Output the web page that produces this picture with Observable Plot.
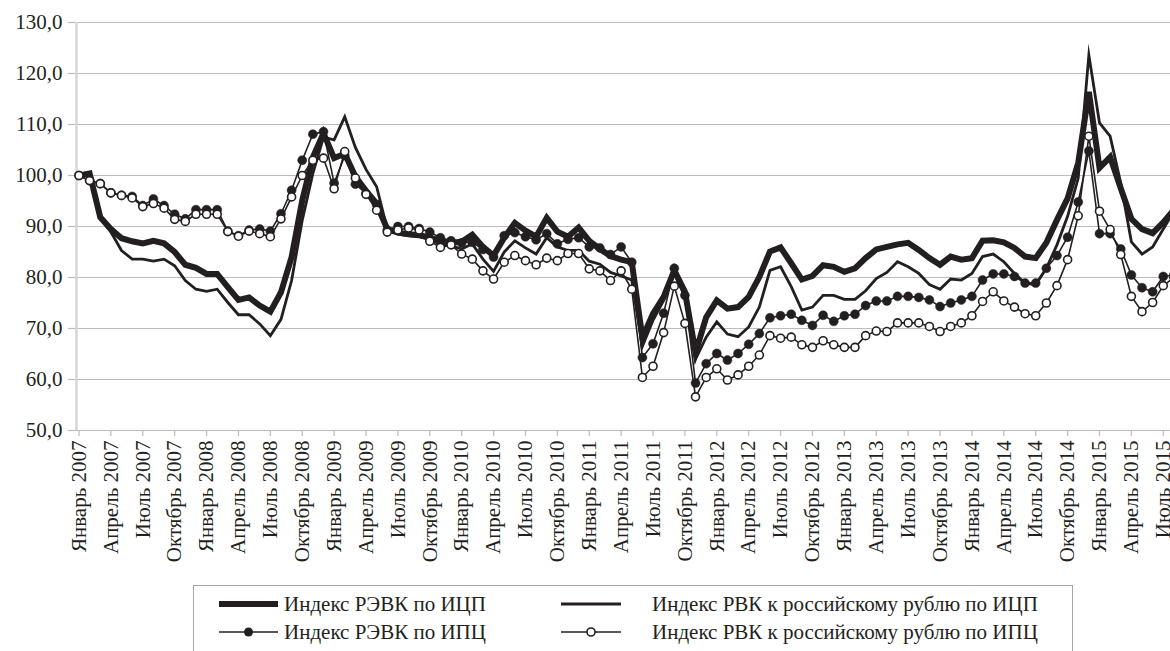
<!DOCTYPE html>
<html>
<head>
<meta charset="utf-8">
<script src="https://cdn.jsdelivr.net/npm/d3@7"></script>
<script src="https://cdn.jsdelivr.net/npm/@observablehq/plot@0.6"></script>
<style>
  html, body { margin: 0; padding: 0; background: #fff; }
  #wrap { position: relative; width: 1170px; height: 651px; overflow: hidden; font-family: "Liberation Serif", "DejaVu Serif", serif; color: #231f20; }
  #chart svg { display: block; }
  #chart svg text { font-family: "Liberation Serif", "DejaVu Serif", serif; }
  .legend { position: absolute; left: 193px; top: 585px; width: 880px; height: 90px; border: 1px solid #a6a6a6; box-sizing: border-box; background: #fff; }
  .item { position: absolute; height: 26px; display: flex; align-items: center; font-size: 21px; white-space: nowrap; font-family: "Liberation Serif", "DejaVu Serif", serif; }
  .item svg { display: block; }
</style>
</head>
<body>
<div id="wrap">
  <div id="chart"></div>
  <div class="legend" id="legend"></div>
</div>
<script>
// ---- data (monthly, January 2007 = index 0) ----
const monthNames = ["Январь","Февраль","Март","Апрель","Май","Июнь","Июль","Август","Сентябрь","Октябрь","Ноябрь","Декабрь"];
const startYear = 2007;
const seriesNames = [
  "Индекс РЭВК по ИЦП",
  "Индекс РВК к российскому рублю по ИЦП",
  "Индекс РЭВК по ИПЦ",
  "Индекс РВК к российскому рублю по ИПЦ"
];
const reerCpi = [100.0,100.4,91.8,89.5,87.7,87.1,86.7,87.2,86.7,85.0,82.5,81.9,
  80.7,80.7,78.1,75.6,76.1,74.5,73.3,77.1,84.0,95.1,103.6,108.3,
  103.4,104.3,99.8,97.0,94.5,89.5,88.8,88.5,88.3,87.8,87.2,86.8,
  87.0,88.4,86.0,84.3,87.8,90.7,89.2,88.0,91.7,89.0,88.0,89.8,
  87.2,85.6,84.2,83.5,83.0,68.2,72.9,76.2,81.4,77.2,65.3,72.2,
  75.5,73.9,74.2,76.2,80.1,85.1,85.9,82.8,79.6,80.3,82.4,82.1,
  81.1,81.8,83.8,85.5,86.0,86.5,86.8,85.4,83.8,82.5,84.1,83.5,
  83.8,87.2,87.3,86.9,85.8,84.1,83.8,86.8,91.3,95.5,102.5,116.4,
  101.5,103.6,97.5,91.5,89.5,88.7,90.8,93.3];
const rerCpi = [100.0,100.4,91.8,88.9,85.3,83.6,83.6,83.2,83.6,82.3,79.4,77.7,
  77.3,77.7,75.1,72.7,72.7,70.9,68.6,71.8,79.4,91.2,100.4,107.5,
  107.0,111.5,105.5,101.2,97.8,89.5,88.5,88.2,88.0,87.5,86.5,86.2,
  85.6,86.6,83.6,81.2,85.0,87.2,85.8,84.6,87.8,86.0,85.3,85.3,
  83.2,82.6,81.0,80.3,79.5,66.5,71.6,75.5,80.8,76.2,64.0,68.3,
  71.3,68.9,68.4,70.3,74.2,81.4,82.1,78.2,73.6,74.2,76.5,76.5,
  75.7,75.7,77.4,79.8,81.0,83.1,82.1,80.8,78.6,77.7,79.7,79.5,
  80.8,84.1,84.6,83.1,80.8,78.9,78.6,81.8,86.4,92.0,99.5,123.6,
  110.3,107.7,98.5,87.0,84.6,86.0,89.5,93.0];
const reerPpi = [100.0,99.0,98.4,96.6,96.1,95.9,94.1,95.4,94.1,92.4,91.5,93.3,
  93.3,93.3,89.1,88.2,89.3,89.5,89.1,92.5,97.1,103.0,108.1,108.6,
  98.5,103.9,98.3,96.5,94.3,89.3,90.0,90.0,89.6,88.9,87.8,87.2,
  86.8,86.9,85.5,84.0,88.2,88.8,88.0,87.4,88.6,86.6,87.5,87.8,
  86.0,85.8,84.5,86.0,83.0,64.3,67.0,73.0,81.8,76.5,59.3,63.1,
  65.1,63.8,65.1,66.9,69.0,72.1,72.5,72.8,71.6,70.6,72.6,71.4,
  72.5,72.8,74.5,75.4,75.4,76.3,76.3,76.1,75.6,74.3,75.0,75.6,
  76.3,79.5,80.7,80.7,80.2,78.9,78.9,81.8,84.3,87.9,94.8,104.8,
  88.6,88.6,85.6,80.5,78.0,77.2,80.2,80.5];
const rerPpi = [100.0,99.0,98.4,96.6,96.1,95.6,93.9,94.5,93.6,91.4,91.0,92.4,
  92.4,92.4,89.0,88.1,89.1,88.6,88.0,91.5,95.8,100.0,103.0,103.4,
  97.4,104.7,99.5,96.3,93.2,88.9,89.3,89.7,89.3,87.1,85.9,86.4,
  84.6,83.6,81.3,79.7,83.0,84.3,83.3,82.5,83.8,83.3,84.7,84.7,
  81.7,81.3,79.4,81.3,77.7,60.4,62.6,69.2,78.3,71.0,56.6,60.4,
  62.1,59.9,60.9,62.6,64.8,68.6,68.1,68.3,66.8,66.3,67.6,66.8,
  66.3,66.3,68.6,69.5,69.4,71.1,71.1,71.1,70.4,69.4,70.4,71.1,
  72.5,75.3,77.2,75.4,74.2,72.9,72.5,75.0,78.4,83.5,92.1,107.7,
  93.0,89.4,84.5,76.3,73.3,75.1,78.4,80.0];
const yTicks = [50, 60, 70, 80, 90, 100, 110, 120, 130];
const xTicks = d3.range(0, 103, 3); // every quarter: Январь, Апрель, Июль, Октябрь

// ---- helpers ----
const monthLabel = i => monthNames[i % 12] + " " + (startYear + Math.floor(i / 12));
const rows = arr => arr.map((v, i) => ({i, v}));
const ink = "#231f20";
const xDomain = [-0.235, 102.68];
const serif = "'Liberation Serif', 'DejaVu Serif', serif";

const chart = Plot.plot({
  width: 1170,
  height: 582,
  marginLeft: 76,
  marginRight: 0,
  marginTop: 22,
  marginBottom: 152,
  style: {fontFamily: serif, fontSize: "21px", color: ink, background: "#fff", overflow: "hidden"},
  x: {domain: xDomain},
  y: {domain: [50, 130]},
  marks: [
    Plot.gridY(yTicks, {stroke: "#bcbcbc", strokeOpacity: 1, strokeWidth: 1.2}),
    Plot.axisY(yTicks, {tickSize: 8, tickPadding: 6, stroke: "#bcbcbc", strokeWidth: 1.2, fill: ink, fontSize: 21,
      fontFamily: serif, tickFormat: d => d.toFixed(1).replace(".", ","), label: null}),
    Plot.ruleY([50], {stroke: "#bcbcbc", strokeWidth: 1.2}),
    Plot.ruleX([xDomain[0]], {stroke: "#d6d6d6", strokeWidth: 2.5}),
    Plot.axisX(xTicks, {tickSize: 6, tickPadding: 4, tickRotate: -90, stroke: "#bcbcbc", strokeWidth: 1.2, fill: ink, fontSize: 21,
      fontFamily: serif, tickFormat: monthLabel, label: null}),
    Plot.line(rows(reerCpi), {x: "i", y: "v", stroke: ink, strokeWidth: 6, strokeLinejoin: "miter", strokeMiterlimit: 6}),
    Plot.line(rows(rerCpi), {x: "i", y: "v", stroke: ink, strokeWidth: 2.8, strokeLinejoin: "miter", strokeMiterlimit: 10}),
    Plot.line(rows(reerPpi), {x: "i", y: "v", stroke: ink, strokeWidth: 1.6}),
    Plot.dot(rows(reerPpi), {x: "i", y: "v", r: 4.5, fill: ink, stroke: ink, strokeWidth: 0.5}),
    Plot.line(rows(rerPpi), {x: "i", y: "v", stroke: ink, strokeWidth: 1.6}),
    Plot.dot(rows(rerPpi), {x: "i", y: "v", r: 4, fill: "#fff", stroke: ink, strokeWidth: 1.6})
  ]
});
document.getElementById("chart").appendChild(chart);

// ---- legend ----
const legendItems = [
  {name: seriesNames[0], left: 25, top: 5, w: 59, gap: 6, sw: 6, marker: null},
  {name: seriesNames[1], left: 367, top: 5, w: 60, gap: 31, sw: 2.8, marker: null},
  {name: seriesNames[2], left: 25, top: 33, w: 59, gap: 6, sw: 1.6, marker: "filled"},
  {name: seriesNames[3], left: 367, top: 33, w: 60, gap: 31, sw: 1.6, marker: "open"}
];
const legend = document.getElementById("legend");
for (const it of legendItems) {
  const div = document.createElement("div");
  div.className = "item";
  div.style.left = it.left + "px";
  div.style.top = it.top + "px";
  let m = "";
  if (it.marker === "filled") m = `<circle cx="${it.w/2}" cy="13" r="4.5" fill="${ink}"/>`;
  if (it.marker === "open") m = `<circle cx="${it.w/2}" cy="13" r="4" fill="#fff" stroke="${ink}" stroke-width="1.6"/>`;
  div.innerHTML = `<svg width="${it.w}" height="26"><line x1="0" x2="${it.w}" y1="13" y2="13" stroke="${ink}" stroke-width="${it.sw}"/>${m}</svg><span style="margin-left:${it.gap}px">${it.name}</span>`;
  legend.appendChild(div);
}
</script>
</body>
</html>
